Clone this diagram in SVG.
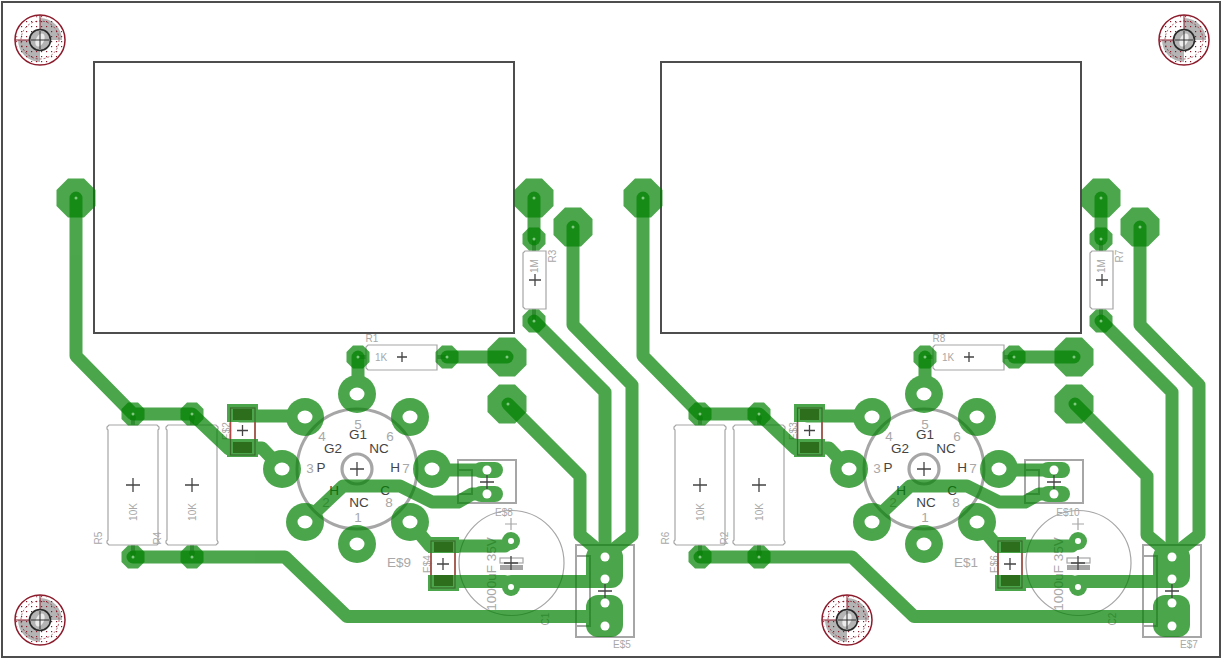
<svg xmlns="http://www.w3.org/2000/svg" width="1223" height="661" viewBox="0 0 1223 661">
<style>
text{font-family:"Liberation Sans",Arial,sans-serif}
.g{fill:#a8a8a8}.d{fill:#444}
.s11{font-size:10px}.s14{font-size:13.500px}
.silk{fill:none;stroke:#a6a6a6;stroke-width:2}
.thin{fill:none;stroke:#a6a6a6;stroke-width:1.2}
.cu{fill:#008000}
.oct{fill:#008000;fill-opacity:.7}
.tr{fill:none;stroke:#008000;stroke-width:13;stroke-linecap:round;stroke-linejoin:round}
.hole{fill:#fff}
.dot{fill:#7fc87f}
.x{fill:none;stroke:#444;stroke-width:1.3}
.smd{fill:#2c6e1c}
.red{stroke:#b04a4a;stroke-width:1.5;fill:none}
.out{fill:none;stroke:#4d4d4d;stroke-width:2}
</style>
<defs>
<pattern id="dots" width="5" height="5" patternUnits="userSpaceOnUse"><rect x="1" y="1" width="1.2" height="1.2" fill="#8c1c2c"/></pattern>
<polygon id="big" class="oct" points="8,-19.5 19.5,-8 19.5,8 8,19.5 -8,19.5 -19.5,8 -19.5,-8 -8,-19.5"/>
<polygon id="small" class="oct" points="5,-11.5 11.500,-5 11.500,5 5,11.500 -5,11.500 -11.500,5 -11.500,-5 -5,-11.500"/>
<path id="cross" class="x" d="M-7,0H7M0,-7V7"/>
<path id="res" class="silk" style="stroke-width:1.2" d="M2,0H50L52,2V4L51,5V115L52,117V118L50,120H2L0,118V116L1,115V5L0,4V2Z"/>
<g id="mount">
<circle r="25" fill="#fff"/>
<path d="M0,-22A22,22 0 0 1 22,0H0ZM0,22A22,22 0 0 1 -22,0H0Z" fill="#b4b4b4"/>
<circle r="24" fill="url(#dots)"/>
<circle r="25" fill="none" stroke="#8c1c2c" stroke-width="1.5"/>
<circle r="19" fill="none" stroke="#8c1c2c" stroke-width=".7" stroke-dasharray="2 2"/>
<path d="M-25,0H-10M0,-25V-10" stroke="#8c1c2c" stroke-width="1"/>
<circle r="10.5" fill="#b4b4b4" stroke="#2a2a2a" stroke-width="1.6"/>
<ellipse rx="4" ry="7" transform="rotate(25)" fill="#ececec"/>
<path d="M-9,0H9M0,-9V9" stroke="#333" stroke-width="1" fill="none"/>
</g>
<g id="silkLayer">
<circle cx="357" cy="469" r="60" fill="none" stroke="#a6a6a6" stroke-width="3"/>
<circle cx="357" cy="469" r="15" fill="none" stroke="#a6a6a6" stroke-width="3.2"/>
<use href="#res" transform="translate(107,425)"/>
<use href="#res" transform="translate(166,425)"/>
<path class="silk" style="stroke-width:1.2" d="M368,345H437V370H368L366,368V347Z"/>
<path class="silk" style="stroke-width:1.2" d="M525,251H546V309H525L523,307V253Z"/>
<g fill="#a6a6a6"><rect x="131" y="414" width="4" height="11"/><rect x="190" y="414" width="4" height="11"/><rect x="131" y="545" width="4" height="12"/><rect x="190" y="545" width="4" height="12"/><rect x="532" y="239" width="4" height="12"/><rect x="532" y="309" width="4" height="12"/><rect x="358" y="355" width="8" height="4"/><rect x="437" y="355" width="10" height="4"/></g>
<circle cx="133" cy="418" r="3" fill="#a6a6a6"/><circle cx="192" cy="418" r="3" fill="#a6a6a6"/><circle cx="133" cy="553" r="3" fill="#a6a6a6"/><circle cx="192" cy="553" r="3" fill="#a6a6a6"/>
<rect class="silk" x="458" y="460" width="58" height="43"/>
<path class="silk" d="M458,470H472V494H458"/>
<rect class="silk" x="576" y="545" width="58" height="92"/>
<path class="silk" d="M576,556H590V626H576"/>
<circle class="thin" cx="511.500" cy="563" r="52.500"/>
<rect class="silk" style="stroke-width:1.2" x="500" y="558" width="23" height="5"/>
<rect x="500" y="565" width="23" height="5" fill="#a6a6a6"/>
<path d="M505,524H517M511,518V530" stroke="#a6a6a6" stroke-width="1.2" fill="none"/>
</g>
<g id="copperLayer" opacity=".7">
<path class="tr" d="M76,198V356L133,414H192L229,449H240"/>
<path class="tr" d="M133,557H285L347,616.500H600"/>
<path class="tr" d="M240,416H305"/>
<path class="tr" d="M245,448H262L282,469"/>
<path class="tr" d="M358,357V394"/>
<path class="tr" d="M447,357H507"/>
<path class="tr" d="M508,404L580,476V535L605,556"/>
<path class="tr" d="M534,321L605,392V556"/>
<path class="tr" d="M573,227V325L632,385V535L605,556"/>
<path class="tr" d="M534,198V239"/>
<path class="tr" d="M432,470H487"/>
<path class="tr" stroke-width="12" d="M305,522L343,486H400L432,502H458L472,494H487"/>
<path class="tr" d="M410,522L430,546H505L511,541"/>
<path class="tr" d="M443,581.500H505L511,587M511,581.500H596"/>
<g class="cu"><circle cx="357" cy="394" r="19"/><circle cx="410" cy="417" r="19"/><circle cx="305" cy="417" r="19"/><circle cx="282" cy="469" r="19"/><circle cx="432" cy="469" r="19"/><circle cx="305" cy="522" r="19"/><circle cx="410" cy="522" r="19"/><circle cx="357" cy="544" r="19"/>
<rect x="227" y="404" width="31" height="18"/><rect x="227" y="439" width="31" height="18"/>
<rect x="428" y="537" width="31" height="16"/><rect x="428" y="575" width="31" height="16"/>
<rect x="473" y="462" width="30" height="16" rx="8"/><rect x="473" y="486" width="30" height="16" rx="8"/>
<circle cx="511" cy="541" r="9"/><circle cx="511" cy="587" r="9"/>
<rect x="586" y="545" width="37" height="43" rx="12"/><rect x="586" y="595" width="37" height="42" rx="12"/></g>
</g>
<g id="padLayer">
<use href="#big" x="76" y="198"/><use href="#big" x="534" y="198"/><use href="#big" x="573" y="227"/><use href="#big" x="507" y="357"/><use href="#big" x="507" y="404"/>
<use href="#small" x="534" y="239"/><use href="#small" x="534" y="321"/><use href="#small" x="358" y="357"/><use href="#small" x="447" y="357"/>
<use href="#small" x="133" y="414"/><use href="#small" x="192" y="414"/><use href="#small" x="133" y="557"/><use href="#small" x="192" y="557"/>
</g>
<g id="topLayer">
<rect class="smd" x="233" y="409" width="19" height="11"/><rect class="smd" x="233" y="442" width="19" height="11"/>
<rect class="smd" x="434" y="542" width="19" height="10"/><rect class="smd" x="434" y="575" width="19" height="11"/>
<rect x="230.500" y="408" width="24.500" height="47" fill="none" stroke="#3a6b2a" stroke-width="1.2"/>
<rect x="431" y="541" width="24" height="47" fill="none" stroke="#3a6b2a" stroke-width="1.2"/>
<path class="red" d="M230.500,422V439M255,422V439M431,553V575M455,553V575"/>
<g class="hole"><ellipse cx="357" cy="394" rx="7.500" ry="6.500"/><ellipse cx="410" cy="417" rx="7.500" ry="6.500"/><ellipse cx="305" cy="417" rx="7.500" ry="6.500"/><ellipse cx="282" cy="469" rx="7.500" ry="6.500"/><ellipse cx="432" cy="469" rx="7.500" ry="6.500"/><ellipse cx="305" cy="522" rx="7.500" ry="6.500"/><ellipse cx="410" cy="522" rx="7.500" ry="6.500"/><ellipse cx="357" cy="544" rx="7.500" ry="6.500"/>
<circle cx="487" cy="470" r="4.500"/><circle cx="487" cy="494" r="4.500"/><circle cx="605" cy="557" r="4.500"/><circle cx="605" cy="579" r="4.500"/><circle cx="605" cy="603" r="4.500"/><circle cx="605" cy="626" r="4.500"/><circle cx="511" cy="541" r="3"/><circle cx="511" cy="587" r="3"/></g>
<g class="dot"><circle cx="76" cy="198" r="1.500"/><circle cx="534" cy="198" r="1.500"/><circle cx="573" cy="227" r="1.500"/><circle cx="507" cy="357" r="1.500"/><circle cx="508" cy="404" r="1.500"/><circle cx="534" cy="239" r="1.500"/><circle cx="534" cy="321" r="1.500"/><circle cx="358" cy="357" r="1.500"/><circle cx="447" cy="357" r="1.500"/><circle cx="133" cy="414" r="1.500"/><circle cx="192" cy="414" r="1.500"/><circle cx="133" cy="557" r="1.500"/><circle cx="192" cy="557" r="1.500"/></g>
<use href="#cross" x="133" y="485"/><use href="#cross" x="192" y="485"/><use href="#cross" x="357" y="469"/><use href="#cross" x="487" y="482"/><use href="#cross" x="605" y="591"/><use href="#cross" x="511" y="563"/>
<g class="x"><path d="M237,430.500H248M242.500,425V436M437,564H449M443,558V570M397,357H407M402,352V362M529,280H541M535,274V286"/></g>
</g>
<g id="socketText" text-anchor="middle">
<text x="358" y="429" class="g s14">5</text><text x="322" y="441" class="g s14">4</text><text x="390" y="441" class="g s14">6</text><text x="310" y="473" class="g s14">3</text><text x="406" y="473" class="g s14">7</text><text x="326" y="507" class="g s14">2</text><text x="389" y="507" class="g s14">8</text><text x="358" y="522" class="g s14">1</text>
<text x="358" y="439" class="d s14">G1</text><text x="333" y="453" class="d s14">G2</text><text x="379" y="453" class="d s14">NC</text><text x="321" y="472" class="d s14">P</text><text x="395" y="472" class="d s14">H</text><text x="334" y="495" class="d s14">H</text><text x="385" y="495" class="d s14">C</text><text x="359" y="507" class="d s14">NC</text>
</g>
</defs>
<rect width="1223" height="661" fill="#fff"/>
<rect class="out" x="2" y="2" width="1218" height="655"/>
<rect class="out" x="94" y="62" width="420" height="271"/>
<rect class="out" x="661" y="62" width="420" height="271"/>
<use href="#mount" x="40" y="40"/><use href="#mount" x="1184" y="40"/><use href="#mount" x="40" y="620"/><use href="#mount" x="847" y="620"/>
<g id="silkscreen">
<use href="#silkLayer"/>
<use href="#silkLayer" x="567"/>
<use href="#socketText"/>
<use href="#socketText" x="567"/>
</g>
<g id="labels" class="g">
<text x="372" y="342" text-anchor="middle" class="s11">R1</text>
<text x="939" y="342" text-anchor="middle" class="s11">R8</text>
<text x="381" y="361" text-anchor="middle" class="s11">1K</text>
<text x="948" y="361" text-anchor="middle" class="s11">1K</text>
<text transform="translate(538,266) rotate(-90)" text-anchor="middle" class="s11">1M</text>
<text transform="translate(1105,266) rotate(-90)" text-anchor="middle" class="s11">1M</text>
<text transform="translate(556,256) rotate(-90)" text-anchor="middle" class="s11">R3</text>
<text transform="translate(1123,256) rotate(-90)" text-anchor="middle" class="s11">R7</text>
<text transform="translate(137,512) rotate(-90)" text-anchor="middle" class="s11">10K</text>
<text transform="translate(196,512) rotate(-90)" text-anchor="middle" class="s11">10K</text>
<text transform="translate(704,512) rotate(-90)" text-anchor="middle" class="s11">10K</text>
<text transform="translate(763,512) rotate(-90)" text-anchor="middle" class="s11">10K</text>
<text transform="translate(102,538) rotate(-90)" text-anchor="middle" class="s11">R5</text>
<text transform="translate(161,538) rotate(-90)" text-anchor="middle" class="s11">R4</text>
<text transform="translate(669,538) rotate(-90)" text-anchor="middle" class="s11">R6</text>
<text transform="translate(728,538) rotate(-90)" text-anchor="middle" class="s11">R2</text>
<text transform="translate(230,431) rotate(-90)" text-anchor="middle" class="s11">E$2</text>
<text transform="translate(797,431) rotate(-90)" text-anchor="middle" class="s11">E$3</text>
<text transform="translate(431,564) rotate(-90)" text-anchor="middle" class="s11">E$4</text>
<text transform="translate(998,564) rotate(-90)" text-anchor="middle" class="s11">E$6</text>
<text x="504" y="516" text-anchor="middle" class="s11">E$8</text>
<text x="1068" y="516" text-anchor="middle" class="s11">E$10</text>
<text x="622" y="648" text-anchor="middle" class="s11">E$5</text>
<text x="1189" y="648" text-anchor="middle" class="s11">E$7</text>
<text x="399" y="567" text-anchor="middle" class="s14">E$9</text>
<text x="966" y="567" text-anchor="middle" class="s14">E$1</text>
<text transform="translate(496,574) rotate(-90)" text-anchor="middle" class="s14">1000uF 35V</text>
<text transform="translate(1063,574) rotate(-90)" text-anchor="middle" class="s14">1000uF 35V</text>
<text transform="translate(549,619) rotate(-90)" text-anchor="middle" class="s11">C1</text>
<text transform="translate(1116,619) rotate(-90)" text-anchor="middle" class="s11">C2</text>
</g>
<g id="copper">
<use href="#copperLayer"/>
<use href="#copperLayer" x="567"/>
<use href="#padLayer"/>
<use href="#padLayer" x="567"/>
</g>
<g id="top">
<use href="#topLayer"/>
<use href="#topLayer" x="567"/>
</g>
</svg>
